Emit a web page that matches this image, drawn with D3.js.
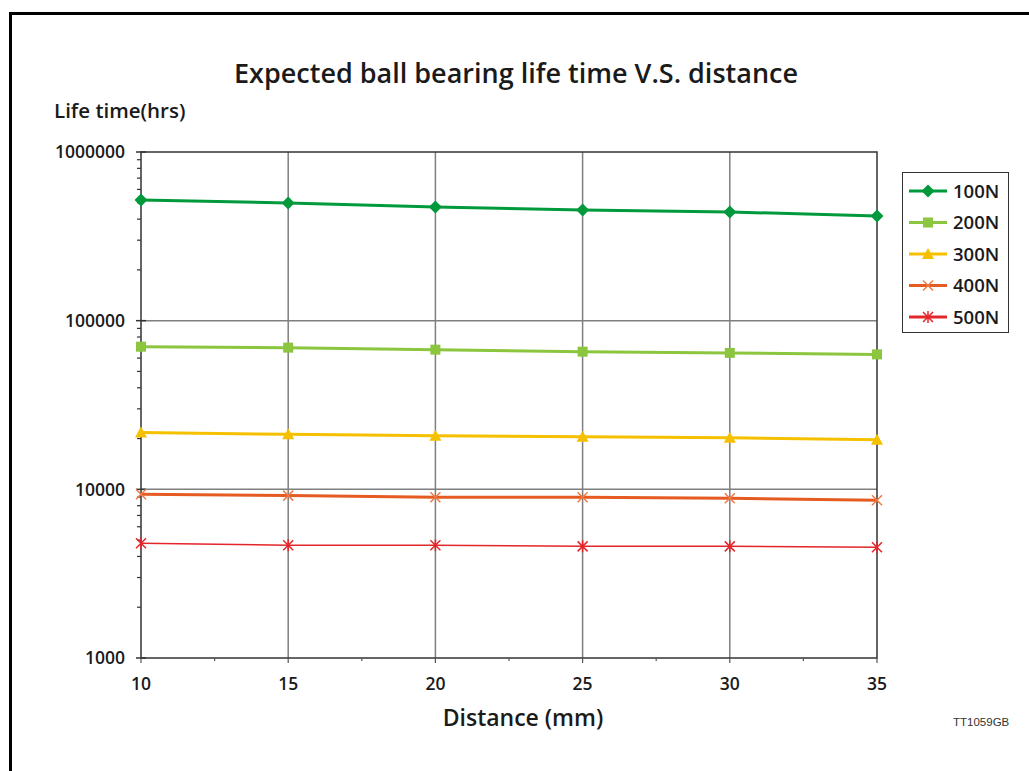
<!DOCTYPE html>
<html>
<head>
<meta charset="utf-8">
<script src="https://cdn.jsdelivr.net/npm/d3@7"></script>
<style>
  body { margin: 0; background: #fff; }
  text { font-family: 'Open Sans', 'DejaVu Sans', sans-serif; fill: #1a1a1a; }
</style>
</head>
<body>
<div id="chart"></div>
<script>
var distances = [10, 15, 20, 25, 30, 35];
var seriesNames = ["100N", "200N", "300N", "400N", "500N"];
var life100 = [519000, 499000, 472000, 453000, 441000, 417000];
var life200 = [70100, 69200, 67300, 65500, 64400, 63100];
var life300 = [21700, 21200, 20800, 20500, 20200, 19700];
var life400 = [9340, 9180, 8970, 8970, 8850, 8610];
var life500 = [4790, 4660, 4660, 4590, 4590, 4530];
var yTicks = [1000, 10000, 100000, 1000000];
var xTicks = [10, 15, 20, 25, 30, 35];

var W = 1029, H = 771;
var margin = {top: 152, right: 152, bottom: 113, left: 141};
var width = W - margin.left - margin.right;
var height = H - margin.top - margin.bottom;

var svg = d3.select("#chart")
    .append("svg")
    .attr("width", W)
    .attr("height", H);

// frame (left + top only, rest is cut off)
svg.append("path")
   .attr("d", "M10.5," + H + " L10.5,13.5 L" + W + ",13.5")
   .attr("fill", "none")
   .attr("stroke", "#000")
   .attr("stroke-width", 3);

var g = svg.append("g")
    .attr("transform", "translate(" + margin.left + "," + margin.top + ")");

var xScale = d3.scaleLinear().domain([10, 35]).range([0, width]);
var yScale = d3.scaleLog().domain([1000, 1000000]).range([height, 0]);

// grid
g.selectAll(".vgrid")
 .data(xTicks.slice(1, -1))
 .enter().append("line")
 .attr("x1", function(d) { return xScale(d); })
 .attr("x2", function(d) { return xScale(d); })
 .attr("y1", 0).attr("y2", height)
 .attr("stroke", "#7f7f7f").attr("stroke-width", 1.5);

g.selectAll(".hgrid")
 .data(yTicks.slice(1, -1))
 .enter().append("line")
 .attr("x1", 0).attr("x2", width)
 .attr("y1", function(d) { return yScale(d); })
 .attr("y2", function(d) { return yScale(d); })
 .attr("stroke", "#7f7f7f").attr("stroke-width", 1.5);

// plot border
g.append("rect")
 .attr("width", width).attr("height", height)
 .attr("fill", "none")
 .attr("stroke", "#333").attr("stroke-width", 1.5);

// minor y ticks
var minors = [];
[1000, 10000, 100000].forEach(function(b) {
  for (var k = 2; k <= 9; k++) minors.push(b * k);
});
g.selectAll(".ymin")
 .data(minors)
 .enter().append("line")
 .attr("x1", -4).attr("x2", 0)
 .attr("y1", function(d) { return yScale(d); })
 .attr("y2", function(d) { return yScale(d); })
 .attr("stroke", "#333").attr("stroke-width", 1.2);

g.selectAll(".ymaj")
 .data(yTicks)
 .enter().append("line")
 .attr("x1", -5).attr("x2", 5)
 .attr("y1", function(d) { return yScale(d); })
 .attr("y2", function(d) { return yScale(d); })
 .attr("stroke", "#333").attr("stroke-width", 1.5);

// x ticks
g.selectAll(".xmaj")
 .data(xTicks)
 .enter().append("line")
 .attr("x1", function(d) { return xScale(d); })
 .attr("x2", function(d) { return xScale(d); })
 .attr("y1", height).attr("y2", height + 5)
 .attr("stroke", "#555").attr("stroke-width", 1.2);

g.selectAll(".xmin")
 .data([12.5, 17.5, 22.5, 27.5, 32.5])
 .enter().append("line")
 .attr("x1", function(d) { return xScale(d); })
 .attr("x2", function(d) { return xScale(d); })
 .attr("y1", height).attr("y2", height + 3)
 .attr("stroke", "#555").attr("stroke-width", 1.2);

// tick labels
g.selectAll(".ylab")
 .data(yTicks)
 .enter().append("text")
 .attr("x", -16)
 .attr("y", function(d) { return yScale(d); })
 .attr("dy", "0.36em")
 .attr("text-anchor", "end")
 .style("font-size", "17.5px")
 .style("font-weight", "600")
 .text(function(d) { return d; });

g.selectAll(".xlab")
 .data(xTicks)
 .enter().append("text")
 .attr("x", function(d) { return xScale(d); })
 .attr("y", height + 32)
 .attr("text-anchor", "middle")
 .style("font-size", "17.5px")
 .style("font-weight", "600")
 .text(function(d) { return d; });

// series
var series = [
  {name: seriesNames[0], values: life100, color: "#009a3d", width: 3, marker: "diamond"},
  {name: seriesNames[1], values: life200, color: "#8cc63f", width: 3, marker: "square"},
  {name: seriesNames[2], values: life300, color: "#f5c000", width: 3, marker: "triangle"},
  {name: seriesNames[3], values: life400, color: "#e55b22", width: 3, marker: "cross"},
  {name: seriesNames[4], values: life500, color: "#e3262a", width: 1.5, marker: "star"}
];

var line = d3.line()
    .x(function(d, i) { return xScale(distances[i]); })
    .y(function(d) { return yScale(d); });

function drawMarker(sel, type, color, x, y) {
  if (type == "diamond") {
    sel.append("path")
       .attr("d", "M" + x + "," + (y - 6.5) + " L" + (x + 6.5) + "," + y + " L" + x + "," + (y + 6.5) + " L" + (x - 6.5) + "," + y + "Z")
       .attr("fill", color);
  } else if (type == "square") {
    sel.append("rect")
       .attr("x", x - 5).attr("y", y - 5)
       .attr("width", 10).attr("height", 10)
       .attr("fill", color);
  } else if (type == "triangle") {
    sel.append("path")
       .attr("d", "M" + x + "," + (y - 6) + " L" + (x + 6) + "," + (y + 5) + " L" + (x - 6) + "," + (y + 5) + "Z")
       .attr("fill", color);
  } else if (type == "cross") {
    sel.append("path")
       .attr("d", "M" + (x - 5) + "," + (y - 5) + " L" + (x + 5) + "," + (y + 5) + " M" + (x - 5) + "," + (y + 5) + " L" + (x + 5) + "," + (y - 5))
       .attr("stroke", "#ef7a45").attr("stroke-width", 1.5);
  } else {
    sel.append("path")
       .attr("d", "M" + (x - 5) + "," + (y - 5) + " L" + (x + 5) + "," + (y + 5) + " M" + (x - 5) + "," + (y + 5) + " L" + (x + 5) + "," + (y - 5) +
             " M" + x + "," + (y - 6) + " L" + x + "," + (y + 6))
       .attr("stroke", color).attr("stroke-width", 1.5);
  }
}

series.forEach(function(s) {
  g.append("path")
   .datum(s.values)
   .attr("d", line)
   .attr("fill", "none")
   .attr("stroke", s.color)
   .attr("stroke-width", s.width);
  s.values.forEach(function(v, i) {
    drawMarker(g, s.marker, s.color, xScale(distances[i]), yScale(v));
  });
});

// legend
var legend = svg.append("g").attr("transform", "translate(902,172)");
legend.append("rect")
      .attr("x", 0.5).attr("y", 0.5)
      .attr("width", 106).attr("height", 160)
      .attr("fill", "#fff")
      .attr("stroke", "#333").attr("stroke-width", 1);

series.forEach(function(s, i) {
  var ly = 19 + i * 31.5;
  legend.append("line")
        .attr("x1", 7).attr("x2", 45)
        .attr("y1", ly).attr("y2", ly)
        .attr("stroke", s.color).attr("stroke-width", 3);
  drawMarker(legend, s.marker, s.color, 26, ly);
  legend.append("text")
        .attr("x", 51).attr("y", ly)
        .attr("dy", "0.36em")
        .style("font-size", "18.5px")
        .style("font-weight", "600")
        .text(s.name);
});

// titles
svg.append("text")
   .attr("x", 516).attr("y", 83)
   .attr("text-anchor", "middle")
   .style("font-size", "27px")
   .style("font-weight", "600")
   .text("Expected ball bearing life time V.S. distance");

svg.append("text")
   .attr("x", 54).attr("y", 118)
   .style("font-size", "20.5px")
   .style("font-weight", "600")
   .text("Life time(hrs)");

svg.append("text")
   .attr("x", 523).attr("y", 726)
   .attr("text-anchor", "middle")
   .style("font-size", "23px")
   .style("font-weight", "600")
   .text("Distance (mm)");

svg.append("text")
   .attr("x", 953).attr("y", 726)
   .style("font-family", "'Liberation Sans Narrow', 'Liberation Sans', sans-serif")
   .style("font-size", "11.5px")
   .style("fill", "#333")
   .text("TT1059GB");
</script>
</body>
</html>
